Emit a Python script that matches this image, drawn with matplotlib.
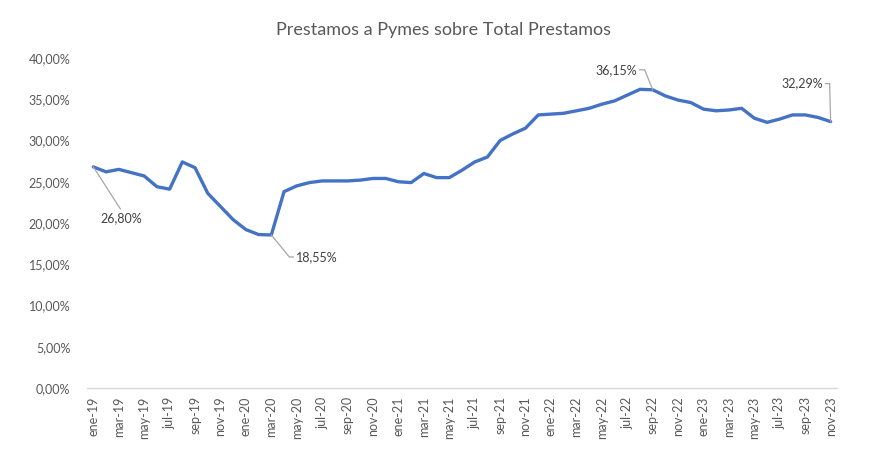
import numpy as np
import matplotlib.pyplot as plt
from matplotlib.ticker import FuncFormatter

# datos (% prestamos a pymes sobre total)
MESES = ["ene", "feb", "mar", "abr", "may", "jun", "jul", "ago", "sep", "oct", "nov", "dic"]
ANIOS = ["19", "20", "21", "22", "23"]

v2019 = [26.80, 26.2, 26.5, 26.1, 25.7, 24.4, 24.1, 27.4, 26.7, 23.6, 22.0, 20.4]
v2020 = [19.2, 18.6, 18.55, 23.8, 24.5, 24.9, 25.1, 25.1, 25.1, 25.2, 25.4, 25.4]
v2021 = [25.0, 24.9, 26.0, 25.5, 25.5, 26.4, 27.4, 28.0, 30.0, 30.8, 31.5, 33.1]
v2022 = [33.2, 33.3, 33.6, 33.9, 34.4, 34.8, 35.5, 36.2, 36.15, 35.4, 34.9, 34.6]
v2023 = [33.8, 33.6, 33.7, 33.9, 32.7, 32.2, 32.6, 33.1, 33.1, 32.8, 32.29]

# etiquetas destacadas: (indice, texto)
ETIQUETAS = [(0, "26,80%"), (14, "18,55%"), (44, "36,15%"), (58, "32,29%")]

valores = np.array(v2019 + v2020 + v2021 + v2022 + v2023)
fechas = [f"{m}-{a}" for a in ANIOS for m in MESES][:len(valores)]
x = np.arange(len(valores))

plt.rcParams["font.family"] = ["Lato", "DejaVu Sans"]
GRIS = "#595959"

fig = plt.figure(figsize=(8.86, 4.66), dpi=100)
ax = fig.add_axes([87 / 886, 1 - 388 / 466, 750 / 886, 330 / 466])

ax.plot(x, valores, color="#4472C4", linewidth=2.4, solid_capstyle="round",
        solid_joinstyle="round")

ax.set_xlim(-0.5, len(valores) - 0.5)
ax.set_ylim(0, 40)
ax.set_yticks(np.arange(0, 41, 5))
ax.yaxis.set_major_formatter(FuncFormatter(lambda v, p: f"{v:.2f}%".replace(".", ",")))
ax.set_xticks(x[::2])
ax.set_xticklabels(fechas[::2], rotation=90)

for s in ["top", "right", "left"]:
    ax.spines[s].set_visible(False)
ax.spines["bottom"].set_color("#D9D9D9")
ax.spines["bottom"].set_linewidth(1)
ax.tick_params(axis="both", length=0, labelsize=9, labelcolor=GRIS)
ax.tick_params(axis="y", pad=12)
ax.tick_params(axis="x", pad=6)

fig.suptitle("Prestamos a Pymes sobre Total Prestamos", x=0.5, y=1 - 30 / 466,
             va="center", fontsize=13, color=GRIS)

# lineas guia y textos de las etiquetas (desplazamientos en pixeles)
guias = {
    0: ([(0, 0), (27, -42)], (28, -51), "center"),
    14: ([(0, 0), (18, -22), (22, -22)], (25, -22), "left"),
    44: ([(0, 0), (-8, 20), (-13, 20)], (-16, 20), "right"),
    58: ([(0, 0), (-1, 38), (-5, 38)], (-8, 38), "right"),
}
for i, texto in ETIQUETAS:
    px, py = ax.transData.transform((x[i], valores[i]))
    pts, (tx, ty), ha = guias[i]
    xs = [px + dx for dx, dy in pts]
    ys = [py + dy for dx, dy in pts]
    ax.plot(xs, ys, color="#A6A6A6", linewidth=0.9, transform=None, clip_on=False)
    ax.text(px + tx, py + ty, texto, transform=None, ha=ha, va="center",
            fontsize=9, color="#404040")

fig.savefig("out.png", dpi=100)
